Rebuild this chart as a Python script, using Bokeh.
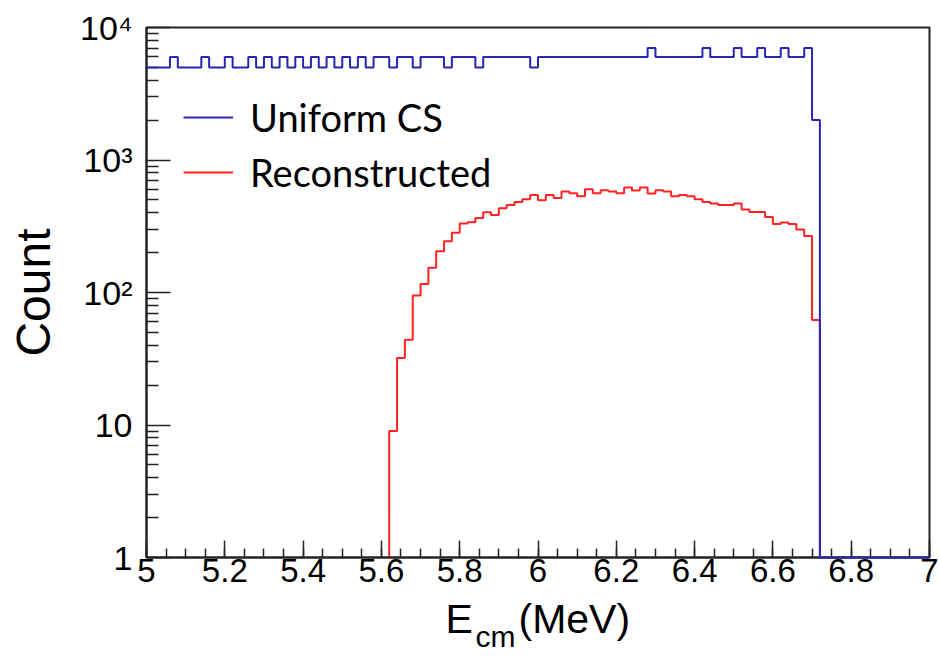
from bokeh.plotting import figure
from bokeh.layouts import column
from bokeh.models import FixedTicker, Legend, LegendItem, Label, Range1d
from bokeh.embed import file_html
from bokeh.resources import INLINE

# ---- histogram definition (0.02 MeV bins) ----
bin_start = 5.0
bin_width = 0.02

# "Uniform CS" counts, one per bin from 5.00 to 7.00 MeV
blue_counts = [
    5000, 5000, 5000, 6000, 5000, 5000, 5000, 6000, 5000, 5000,   # 5.00-5.18
    6000, 5000, 5000, 6000, 5000, 6000, 5000, 6000, 5000, 6000,   # 5.20-5.38
    5000, 6000, 5000, 6000, 5000, 6000, 5000, 6000, 5000, 6000,   # 5.40-5.58
    6000, 5000, 6000, 6000, 5000, 6000, 6000, 6000, 5000, 6000,   # 5.60-5.78
    6000, 6000, 5000, 6000, 6000, 6000, 6000, 6000, 6000, 5000,   # 5.80-5.98
    6000, 6000, 6000, 6000, 6000, 6000, 6000, 6000, 6000, 6000,   # 6.00-6.18
    6000, 6000, 6000, 6000, 7000, 6000, 6000, 6000, 6000, 6000,   # 6.20-6.38
    6000, 7000, 6000, 6000, 6000, 7000, 6000, 6000, 7000, 6000,   # 6.40-6.58
    6000, 7000, 6000, 6000, 7000, 2000, 0, 0, 0, 0,               # 6.60-6.78
    0, 0, 0, 0, 0, 0, 0, 0, 0, 0,                                 # 6.80-6.98
]

# "Reconstructed" counts, bins starting at 5.62 MeV
red_first_edge = 5.62
red_counts = [
    9, 32, 44, 95, 116, 154, 205, 244, 283, 331,        # 5.62-5.80
    339, 365, 403, 385, 432, 458, 482, 505, 545, 497,   # 5.82-6.00
    545, 517, 578, 561, 532, 601, 561, 591, 578, 561,   # 6.02-6.20
    619, 588, 619, 558, 591, 578, 532, 545, 532, 505,   # 6.22-6.40
    482, 469, 458, 458, 469, 423, 405, 405, 372, 329,   # 6.42-6.60
    337, 329, 299, 267, 62,                             # 6.62-6.70
]

series_names = ["Uniform CS", "Reconstructed"]
series_colors = ["#2626b4", "#ff2222"]

x_ticks = [5.0, 5.2, 5.4, 5.6, 5.8, 6.0, 6.2, 6.4, 6.6, 6.8, 7.0]
x_tick_labels = ["5", "5.2", "5.4", "5.6", "5.8", "6", "6.2", "6.4", "6.6", "6.8", "7"]
x_minor = [round(5.0 + 0.05 * i, 2) for i in range(41)]
y_ticks = [1, 10, 100, 1000, 10000]
y_tick_labels = ["1", "10", "10\u00b2", "10\u00b3", "10\u2074"]
y_minor = [m * d for d in (1, 10, 100, 1000) for m in range(2, 10)]

x_lo, x_hi = 5.0, 7.0
y_floor = 1  # ROOT draws empty bins on the frame minimum

# layout (pixels)
W = 939
main_h = 596          # frame 27..557, tick labels below it
strip_h = 658 - main_h


def outline(first_edge, counts):
    xs, ys = [], []
    if first_edge > x_lo:          # rise from the frame floor
        xs.append(first_edge)
        ys.append(y_floor)
    for i, c in enumerate(counts):
        left = first_edge + i * bin_width
        v = c if c > 0 else y_floor
        xs += [left, left + bin_width]
        ys += [v, v]
    xs.append(first_edge + len(counts) * bin_width)
    ys.append(y_floor)
    return xs, ys


p = figure(width=W, height=main_h, x_range=Range1d(x_lo, x_hi), y_range=Range1d(1, 1e4),
           y_axis_type="log", output_backend="svg", toolbar_location=None,
           min_border_left=146, min_border_right=10, min_border_top=27,
           min_border_bottom=main_h - 557)
p.grid.visible = False
p.outline_line_color = "#222222"
p.outline_line_width = 2

bx, by = outline(bin_start, blue_counts)
rx, ry = outline(red_first_edge, red_counts)
red_r = p.line(rx, ry, line_color=series_colors[1], line_width=2)
blue_r = p.line(bx, by, line_color=series_colors[0], line_width=2, level="overlay")

for ax in (p.xaxis[0], p.yaxis[0]):
    ax.axis_line_color = "#222222"
    ax.axis_line_width = 2
    ax.major_tick_line_color = "#222222"
    ax.minor_tick_line_color = "#222222"
    ax.major_tick_line_width = 1.5
    ax.minor_tick_line_width = 1.5
    ax.major_tick_out = 0
    ax.minor_tick_out = 0
    ax.major_label_text_font = "Liberation Sans"
    ax.major_label_text_font_size = "33px"
    ax.major_label_text_color = "black"

p.xaxis.ticker = FixedTicker(ticks=x_ticks, minor_ticks=x_minor)
p.xaxis.major_label_overrides = dict(zip(x_ticks, x_tick_labels))
p.xaxis.major_tick_in = 17
p.xaxis.minor_tick_in = 9
p.xaxis.major_label_standoff = 1

p.yaxis.ticker = FixedTicker(ticks=y_ticks, minor_ticks=y_minor)
p.yaxis.major_label_overrides = dict(zip(y_ticks, y_tick_labels))
p.yaxis.major_label_text_font_size = "34px"
p.yaxis.major_tick_in = 24
p.yaxis.minor_tick_in = 12
p.yaxis.major_label_standoff = 14
p.yaxis.axis_label = "Count"
p.yaxis.axis_label_text_font = "Liberation Sans"
p.yaxis.axis_label_text_font_size = "48px"
p.yaxis.axis_label_text_font_style = "normal"
p.yaxis.axis_label_text_color = "black"
p.yaxis.axis_label_standoff = 17

legend = Legend(items=[LegendItem(label=series_names[0], renderers=[blue_r]),
                       LegendItem(label=series_names[1], renderers=[red_r])],
                location=(37, 362), border_line_color=None, background_fill_alpha=0,
                glyph_width=50, glyph_height=46, label_height=46, spacing=9,
                padding=0, margin=0, label_standoff=17,
                label_text_font="Lato", label_text_font_size="38px",
                label_text_color="black")
p.add_layout(legend)

# strip below the plot: x-axis title E_cm(MeV)
t = figure(width=W, height=strip_h, x_range=Range1d(0, 1), y_range=Range1d(0, 1),
           output_backend="svg", toolbar_location=None, min_border=0,
           frame_align=False, x_axis_location=None, y_axis_location=None)
t.grid.visible = False
t.outline_line_color = None
t.add_layout(Label(x=445, y=40, x_units="screen", y_units="screen", text="E",
                   text_align="left", text_baseline="middle",
                   text_font="Liberation Sans", text_font_size="41px", text_color="black"))
t.add_layout(Label(x=475, y=22, x_units="screen", y_units="screen", text="cm",
                   text_align="left", text_baseline="middle",
                   text_font="Liberation Sans", text_font_size="30px", text_color="black"))
t.add_layout(Label(x=518, y=40, x_units="screen", y_units="screen", text="(MeV)",
                   text_align="left", text_baseline="middle",
                   text_font="Liberation Sans", text_font_size="41px", text_color="black"))

layout = column(p, t, spacing=0)
open("out.html", "w").write(file_html(layout, INLINE))
